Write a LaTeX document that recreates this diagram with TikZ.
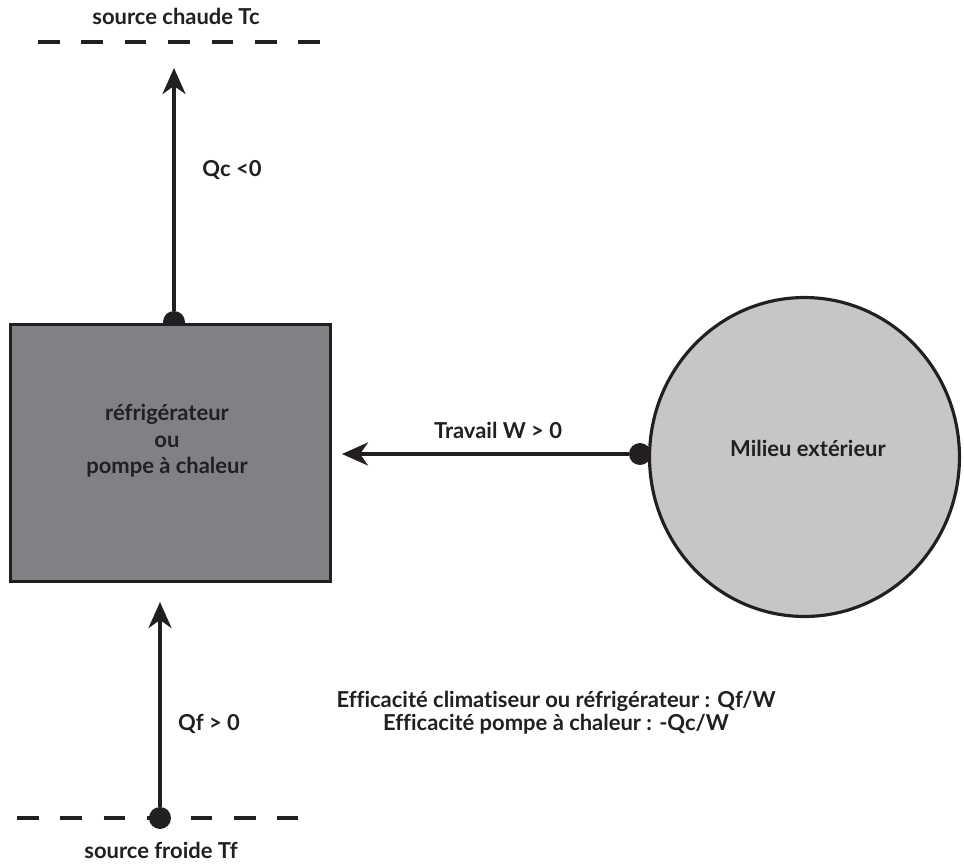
\documentclass[tikz,border=0pt]{standalone}
\usepackage{fontspec}
\setmainfont{Lato}[Ligatures=NoCommon]
\usetikzlibrary{arrows.meta,shapes.geometric}

\definecolor{machine}{RGB}{128,129,133}
\definecolor{milieu}{RGB}{197,198,200}
\definecolor{encre}{RGB}{35,31,32}

\tikzset{
  fleche/.style={draw=encre, line width=2.1pt, -{Stealth[length=0.52cm,width=0.46cm,inset=0.16cm]}},
  source/.style={draw=encre, line width=2.1pt, dash pattern=on 0.434cm off 0.434cm},
  point/.style={circle, fill=encre, inner sep=0pt, minimum size=0.44cm},
  texte/.style={text=encre, font=\bfseries\fontsize{12.5}{15}\selectfont, align=center}
}

\begin{document}
\begin{tikzpicture}[x=0.02cm, y=-0.02cm]
    \useasboundingbox (0,0) rectangle (964,865);
    % sources
    \draw[source] (38,42) -- (320,42);
    \draw[source] (17,818) -- (298,818);
    \node[texte] (tc) at (176,16) {source chaude Tc};
    \node[texte] (tf) at (161,850) {source froide Tf};
    % points de depart des fleches
    \node[point] (pc) at (174,322) {};
    \node[point] (pw) at (640,454) {};
    \node[point] (pf) at (160,818) {};
    % machine et milieu
    \node[draw=encre, line width=2.1pt, fill=machine, minimum width=6.4cm, minimum height=5.14cm] (frigo) at (170.5,453) {};
    \node[texte] (frigotxt) at (167,441) {réfrigérateur\\ou\\pompe à chaleur};
    \node[ellipse, draw=encre, line width=1.8pt, fill=milieu, minimum width=6.2cm, minimum height=6.38cm] (milieu) at (804.5,457) {};
    \node[texte] (milieutxt) at (808,448) {Milieu extérieur};
    % echanges
    \coordinate (qc) at (174,68);
    \coordinate (qf) at (160,602);
    \coordinate (w) at (342,454);
    \draw[fleche] (pc) -- (qc);
    \draw[fleche] (pf) -- (qf);
    \draw[fleche] (pw) -- (w);
    \node[texte] (lqc) at (232,170) {Qc <0};
    \node[texte] (lqf) at (209,724) {Qf > 0};
    \node[texte] (lw) at (498,430) {Travail W > 0};
    \node[texte, font=\bfseries\fontsize{12.5}{13}\selectfont] (eff) at (556,713) {Efficacité climatiseur ou réfrigérateur : Qf/W\\Efficacité pompe à chaleur : -Qc/W};
\end{tikzpicture}
\end{document}
